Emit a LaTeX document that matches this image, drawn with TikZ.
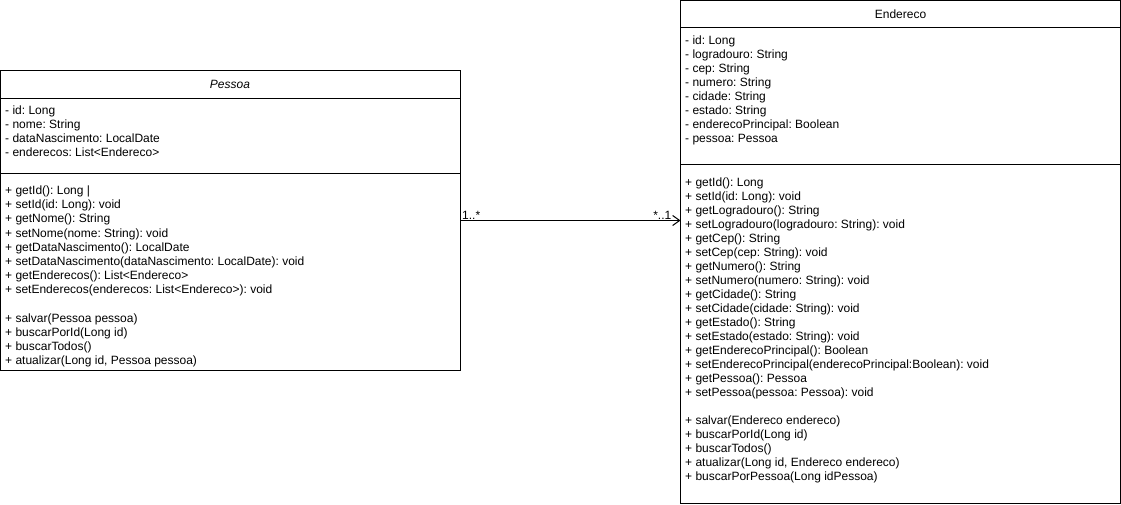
\documentclass[tikz,border=0pt]{standalone}
\usepackage{fontspec}
\setmainfont{Liberation Sans}
\frenchspacing
\usetikzlibrary{arrows.meta}
\begin{document}
\begin{tikzpicture}[x=1pt,y=-1pt,
  classbox/.style={draw=black, line width=1pt, fill=white, anchor=north west,
    inner sep=0pt, outer sep=0pt},
  txt/.style={inner sep=0pt, font=\fontsize{12}{14}\selectfont},
  member/.style={txt, anchor=base west},
  ctitle/.style={txt, anchor=base},
  mult/.style={txt},
  sep/.style={line width=1pt},
  assoc/.style={line width=1pt, -{Straight Barb[length=7pt,width=10pt]}}]
\useasboundingbox (0,0) rectangle (1121,504);

% class boxes
\node[classbox, minimum width=459.5pt, minimum height=300pt] (pessoa) at (0.5,70.5) {};
\node[classbox, minimum width=440pt, minimum height=503pt] (endereco) at (680.5,0.5) {};

% compartment separators
\draw[sep] ([yshift=-27.5pt]pessoa.north west) -- ([yshift=-27.5pt]pessoa.north east);
\draw[sep] ([yshift=-102.5pt]pessoa.north west) -- ([yshift=-102.5pt]pessoa.north east);
\draw[sep] ([yshift=-26.5pt]endereco.north west) -- ([yshift=-26.5pt]endereco.north east);
\draw[sep] ([yshift=-163.5pt]endereco.north west) -- ([yshift=-163.5pt]endereco.north east);

% titles
\node[ctitle, font=\fontsize{12}{14}\selectfont\itshape] (pessoaTitle) at (230,88.5) {Pessoa};
\node[ctitle] (enderecoTitle) at (900.5,18.5) {Endereco};

% Pessoa attributes
\foreach \t [count=\i from 0] in {
  {- id: Long},
  {- nome: String},
  {- dataNascimento: LocalDate},
  {- enderecos: List<Endereco>}}
  \node[member] (pa\i) at (5,114.5+14*\i) {\t};

% Pessoa operations
\foreach \t [count=\i from 0] in {
  {+ getId(): Long |},
  {+ setId(id: Long): void},
  {+ getNome(): String},
  {+ setNome(nome: String): void},
  {+ getDataNascimento(): LocalDate},
  {+ setDataNascimento(dataNascimento: LocalDate): void},
  {+ getEnderecos(): List<Endereco>},
  {+ setEnderecos(enderecos: List<Endereco>): void}}
  \node[member] (pm\i) at (5,194.5+14.2*\i) {\t};
\foreach \t [count=\i from 9] in {
  {+ salvar(Pessoa pessoa)},
  {+ buscarPorId(Long id)},
  {+ buscarTodos()},
  {+ atualizar(Long id, Pessoa pessoa)}}
  \node[member] (pm\i) at (5,194.5+14.2*\i) {\t};

% Endereco attributes
\foreach \t [count=\i from 0] in {
  {- id: Long},
  {- logradouro: String},
  {- cep: String},
  {- numero: String},
  {- cidade: String},
  {- estado: String},
  {- enderecoPrincipal: Boolean},
  {- pessoa: Pessoa}}
  \node[member] (ea\i) at (685,44.5+14*\i) {\t};

% Endereco operations
\foreach \t [count=\i from 0] in {
  {+ getId(): Long},
  {+ setId(id: Long): void},
  {+ getLogradouro(): String},
  {+ setLogradouro(logradouro: String): void},
  {+ getCep(): String},
  {+ setCep(cep: String): void},
  {+ getNumero(): String},
  {+ setNumero(numero: String): void},
  {+ getCidade(): String},
  {+ setCidade(cidade: String): void},
  {+ getEstado(): String},
  {+ setEstado(estado: String): void},
  {+ getEnderecoPrincipal(): Boolean},
  {+ setEnderecoPrincipal(enderecoPrincipal:Boolean): void},
  {+ getPessoa(): Pessoa},
  {+ setPessoa(pessoa: Pessoa): void}}
  \node[member] (em\i) at (685,186+14*\i) {\t};
\foreach \t [count=\i from 17] in {
  {+ salvar(Endereco endereco)},
  {+ buscarPorId(Long id)},
  {+ buscarTodos()},
  {+ atualizar(Long id, Endereco endereco)},
  {+ buscarPorPessoa(Long idPessoa)}}
  \node[member] (em\i) at (685,186+14*\i) {\t};

% association
\draw[assoc] (pessoa.east) -- (pessoa.east -| endereco.west);
\node[mult, anchor=base west] (multPessoa) at ([xshift=2pt,yshift=1.5pt]pessoa.east) {1..*};
\node[mult, anchor=base east] (multEndereco) at ([xshift=-9pt,yshift=1.5pt]pessoa.east -| endereco.west) {*..1};
\end{tikzpicture}
\end{document}
